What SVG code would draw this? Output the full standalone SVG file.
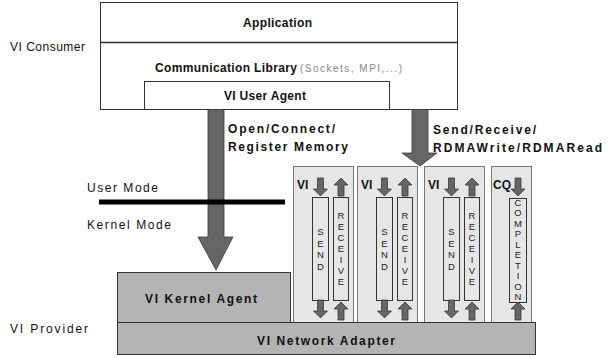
<svg xmlns="http://www.w3.org/2000/svg" width="613" height="358" viewBox="0 0 613 358">
<style>
text{font-family:"Liberation Sans",Arial,sans-serif;fill:#111}
.b{font-weight:bold;font-size:12px}
.r{font-size:12px}
.box{fill:#fff;stroke:#333;stroke-width:1}
.gray{fill:#b4b4b4;stroke:#333;stroke-width:1}
.col{fill:#e6e6e6;stroke:#777;stroke-width:1}
.q{fill:#e6e6e6;stroke:#333;stroke-width:1}
.arr{fill:#666;stroke:#3a3a3a;stroke-width:0.8}
.v{font-size:9.5px;text-anchor:middle;fill:#222}
</style>
<defs>
<path id="dn" d="M-3,0 H3 V11 H7 L0,18 L-7,11 H-3 Z"/>
<path id="up" d="M0,0 L7,7 H3 V18 H-3 V7 H-7 Z"/>
</defs>

<g id="consumer-label"><text class="r" x="10" y="51" textLength="75" lengthAdjust="spacing">VI Consumer</text></g>
<g id="provider-label"><text class="r" x="10" y="333" textLength="78" lengthAdjust="spacing">VI Provider</text></g>

<g id="application">
<rect class="box" x="100.5" y="2.5" width="357" height="107"/>
<line x1="100.5" y1="42.5" x2="457.5" y2="42.5" stroke="#333" stroke-width="1.5"/>
<text class="b" x="243" y="27" textLength="69" lengthAdjust="spacing">Application</text>
</g>
<g id="comm-library">
<text class="b" x="155" y="72" textLength="142" lengthAdjust="spacing">Communication Library</text>
<text x="300" y="72" font-size="10" style="fill:#888" textLength="102" lengthAdjust="spacing">(Sockets, MPI,...)</text>
</g>
<g id="user-agent">
<rect class="box" x="144.5" y="81.5" width="245" height="28"/>
<text class="b" x="224" y="100" textLength="82" lengthAdjust="spacing">VI User Agent</text>
</g>

<g id="vi1">
<rect class="col" x="293.5" y="166.5" width="60" height="156"/>
<text class="b" x="297" y="189">VI</text>
<rect class="q" x="312.5" y="197.5" width="16" height="103"/>
<rect class="q" x="333.5" y="197.5" width="15" height="103"/>
<text class="v"><tspan x="320.5" y="235">S</tspan><tspan x="320.5" y="246.5">E</tspan><tspan x="320.5" y="258">N</tspan><tspan x="320.5" y="269.5">D</tspan></text>
<text class="v"><tspan x="341" y="218.5">R</tspan><tspan x="341" y="229.5">E</tspan><tspan x="341" y="240.5">C</tspan><tspan x="341" y="251.5">E</tspan><tspan x="341" y="262.5">I</tspan><tspan x="341" y="273.5">V</tspan><tspan x="341" y="284.5">E</tspan></text>
<use href="#dn" class="arr" x="320.5" y="178"/>
<use href="#up" class="arr" x="341" y="178"/>
<use href="#dn" class="arr" x="320.5" y="300"/>
<use href="#up" class="arr" x="341" y="302"/>
</g>
<g id="vi2">
<rect class="col" x="357.5" y="166.5" width="60" height="156"/>
<text class="b" x="361" y="189">VI</text>
<rect class="q" x="376.5" y="197.5" width="16" height="103"/>
<rect class="q" x="397.5" y="197.5" width="15" height="103"/>
<text class="v"><tspan x="384.5" y="235">S</tspan><tspan x="384.5" y="246.5">E</tspan><tspan x="384.5" y="258">N</tspan><tspan x="384.5" y="269.5">D</tspan></text>
<text class="v"><tspan x="405" y="218.5">R</tspan><tspan x="405" y="229.5">E</tspan><tspan x="405" y="240.5">C</tspan><tspan x="405" y="251.5">E</tspan><tspan x="405" y="262.5">I</tspan><tspan x="405" y="273.5">V</tspan><tspan x="405" y="284.5">E</tspan></text>
<use href="#dn" class="arr" x="384.5" y="178"/>
<use href="#up" class="arr" x="405" y="178"/>
<use href="#dn" class="arr" x="384.5" y="300"/>
<use href="#up" class="arr" x="405" y="302"/>
</g>
<g id="vi3">
<rect class="col" x="424.5" y="166.5" width="60" height="156"/>
<text class="b" x="428" y="189">VI</text>
<rect class="q" x="443.5" y="197.5" width="16" height="103"/>
<rect class="q" x="464.5" y="197.5" width="15" height="103"/>
<text class="v"><tspan x="451.5" y="235">S</tspan><tspan x="451.5" y="246.5">E</tspan><tspan x="451.5" y="258">N</tspan><tspan x="451.5" y="269.5">D</tspan></text>
<text class="v"><tspan x="472" y="218.5">R</tspan><tspan x="472" y="229.5">E</tspan><tspan x="472" y="240.5">C</tspan><tspan x="472" y="251.5">E</tspan><tspan x="472" y="262.5">I</tspan><tspan x="472" y="273.5">V</tspan><tspan x="472" y="284.5">E</tspan></text>
<use href="#dn" class="arr" x="451.5" y="178"/>
<use href="#up" class="arr" x="472" y="178"/>
<use href="#dn" class="arr" x="451.5" y="300"/>
<use href="#up" class="arr" x="472" y="302"/>
</g>
<g id="cq">
<rect class="col" x="491.5" y="166.5" width="40" height="156"/>
<text class="b" x="493" y="189">CQ</text>
<rect class="q" x="509.5" y="198.5" width="17" height="104"/>
<text class="v"><tspan x="518" y="205.5">C</tspan><tspan x="518" y="216">O</tspan><tspan x="518" y="226.5">M</tspan><tspan x="518" y="237">P</tspan><tspan x="518" y="247.5">L</tspan><tspan x="518" y="258">E</tspan><tspan x="518" y="268.5">T</tspan><tspan x="518" y="279">I</tspan><tspan x="518" y="289.5">O</tspan><tspan x="518" y="300">N</tspan></text>
<use href="#dn" class="arr" x="518" y="178"/>
<use href="#up" class="arr" x="518" y="302"/>
</g>

<g id="kernel-agent">
<rect class="gray" x="117.5" y="272.5" width="173" height="50"/>
<text class="b" x="145" y="303" textLength="112" lengthAdjust="spacing">VI Kernel Agent</text>
</g>
<g id="network-adapter">
<rect class="gray" x="117.5" y="322.5" width="418" height="32"/>
<text class="b" x="257" y="345" textLength="138" lengthAdjust="spacing">VI Network Adapter</text>
</g>

<g id="connectors">
<path class="arr" d="M208,109.5 H224 V237 H233 L216,270 L198,237 H208 Z"/>
<path class="arr" d="M412,109.5 H428 V153 H437 L420,166 L402,153 H412 Z"/>
<text class="b" x="228" y="133" textLength="107" lengthAdjust="spacing">Open/Connect/</text>
<text class="b" x="228" y="151" textLength="120" lengthAdjust="spacing">Register Memory</text>
<text class="b" x="433" y="134" textLength="103" lengthAdjust="spacing">Send/Receive/</text>
<text class="b" x="433" y="152" textLength="169" lengthAdjust="spacing">RDMAWrite/RDMARead</text>
</g>

<g id="mode-boundary">
<line x1="99" y1="202" x2="285" y2="202" stroke="#000" stroke-width="5"/>
<text class="r" x="87" y="192" textLength="71" lengthAdjust="spacing">User Mode</text>
<text class="r" x="87" y="229" textLength="84" lengthAdjust="spacing">Kernel Mode</text>
</g>
</svg>
